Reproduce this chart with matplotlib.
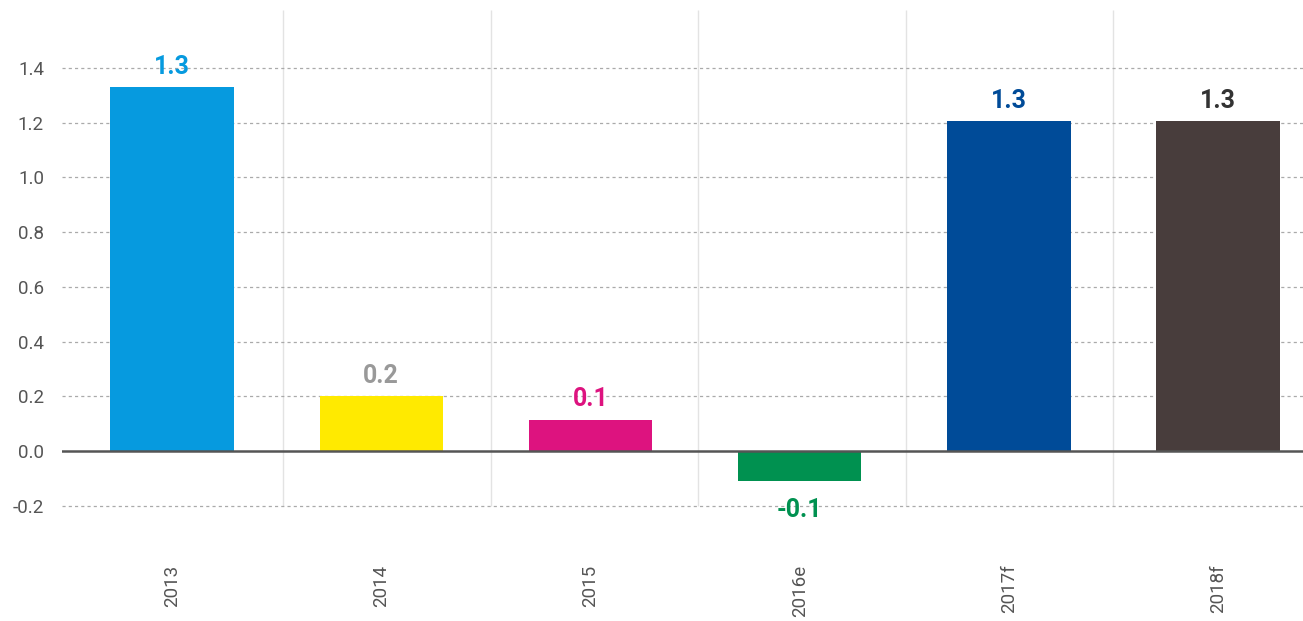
import matplotlib.pyplot as plt

# Growth by year
years = ['2013', '2014', '2015', '2016e', '2017f', '2018f']
values = [1.33, 0.20, 0.115, -0.11, 1.205, 1.205]
labels = ['1.3', '0.2', '0.1', '-0.1', '1.3', '1.3']
bar_colors = ['#069ADF', '#FFEA00', '#DD137F', '#009150', '#004B98', '#483D3C']
label_colors = ['#069ADF', '#999999', '#DD137F', '#009150', '#004B98', '#333333']

plt.rcParams['font.family'] = ['Roboto', 'DejaVu Sans']

fig = plt.figure(figsize=(13.03, 6.21), dpi=100)
# axes in pixel terms: x 62..1303, y 10..520
ax = fig.add_axes([62 / 1303, 1 - 520 / 621, (1303 - 62) / 1303, 510 / 621])

x = range(len(years))
ax.bar(x, values, width=0.59, color=bar_colors, zorder=3)

for i, (v, lab) in enumerate(zip(values, labels)):
    if v >= 0:
        ax.annotate(lab, (i, v), xytext=(0, 6), textcoords='offset points',
                    ha='center', va='bottom', fontsize=18, fontweight='bold',
                    color=label_colors[i], zorder=4)
    else:
        ax.annotate(lab, (i, v), xytext=(0, -12), textcoords='offset points',
                    ha='center', va='top', fontsize=18, fontweight='bold',
                    color=label_colors[i], zorder=4)

ax.set_xlim(-0.526, 5.406)
ax.set_ylim(-0.252, 1.612)

# dotted horizontal grid
yticks = [-0.2, 0.0, 0.2, 0.4, 0.6, 0.8, 1.0, 1.2, 1.4]
ax.set_yticks(yticks)
ax.set_yticklabels([f'{t:.1f}' for t in yticks])
for t in yticks:
    if t != 0:
        ax.axhline(t, color='#aaaaaa', lw=0.9, ls=(0, (2.5, 2.5)), zorder=1)
ax.axhline(0, color='#555555', lw=1.8, zorder=4)

# light separators between categories (slightly tighter spacing than the bars)
ax.vlines([i * 0.992 + 0.531 for i in range(len(years) - 1)], -0.2, 1.612,
          color='#e3e3e3', lw=1.0, zorder=0)

ax.set_xticks(list(x))
ax.set_xticklabels(years, rotation=90, fontsize=13.5, color='#555555', va='top')
ax.tick_params(axis='x', length=0, pad=32)
ax.tick_params(axis='y', length=0, pad=13, labelsize=13.5, labelcolor='#555555')

for s in ax.spines.values():
    s.set_visible(False)

fig.savefig('out.png', dpi=100)
